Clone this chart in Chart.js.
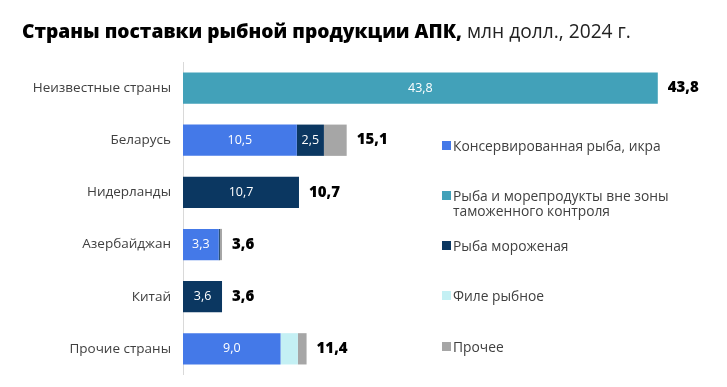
<!DOCTYPE html>
<html>
<head>
<meta charset="utf-8">
<script src="https://cdn.jsdelivr.net/npm/chart.js@4"></script>
<style>
  html, body { margin: 0; padding: 0; background: #fff; }
  #wrap { position: relative; width: 727px; height: 387px; }
  canvas { display: block; }
  #title { position: absolute; left: 22px; top: 17px; font-family: "Open Sans", sans-serif; font-size: 19.2px; color: #000; white-space: nowrap; letter-spacing: 0px; }
  #title b { font-weight: 800; }
  #title span { font-weight: 400; color: #222; }
  #legend { position: absolute; left: 442px; top: 0; font-family: "Open Sans", sans-serif; font-size: 13.8px; color: #404040; }
  .li { position: absolute; left: 0; white-space: nowrap; line-height: 15px; }
  .sw { position: absolute; left: 0; top: 3px; width: 9px; height: 9px; }
  .tx { position: absolute; left: 11px; top: 0; }
</style>
</head>
<body>
<div id="wrap">
  <canvas id="c" width="727" height="387"></canvas>
  <div id="title"><b>Страны поставки рыбной продукции АПК,</b> <span>млн долл., 2024 г.</span></div>
  <div id="legend"></div>
</div>
<script>
const categories = ["Неизвестные страны", "Беларусь", "Нидерланды", "Азербайджан", "Китай", "Прочие страны"];
const seriesNames = ["Консервированная рыба, икра", "Рыба и морепродукты вне зоны таможенного контроля", "Рыба мороженая", "Филе рыбное", "Прочее"];
const legendLines = [["Консервированная рыба, икра"], ["Рыба и морепродукты вне зоны", "таможенного контроля"], ["Рыба мороженая"], ["Филе рыбное"], ["Прочее"]];
const canned = [0, 10.5, 0, 3.3, 0, 9.0];
const outsideCustoms = [43.8, 0, 0, 0, 0, 0];
const frozen = [0, 2.5, 10.7, 0.1, 3.6, 0];
const fillet = [0, 0, 0, 0, 0, 1.6];
const other = [0, 2.1, 0, 0.2, 0, 0.8];
const totals = [43.8, 15.1, 10.7, 3.6, 3.6, 11.4];
const colors = ["#4479e8", "#42a1b9", "#0b3761", "#c4f0f4", "#a6a6a6"];

const seriesData = [canned, outsideCustoms, frozen, fillet, other];
const fmt = v => v.toFixed(1).replace('.', ',');

const labelsPlugin = {
  id: 'labels',
  afterDatasetsDraw(chart) {
    const ctx = chart.ctx;
    ctx.save();
    ctx.textBaseline = 'middle';
    chart.data.datasets.forEach((ds, di) => {
      const meta = chart.getDatasetMeta(di);
      meta.data.forEach((bar, i) => {
        const v = ds.data[i];
        if (di === 4 || di === 3 || v < 2.4) return;
        ctx.fillStyle = '#ffffff';
        ctx.font = '400 12.5px "Open Sans", sans-serif';
        ctx.textAlign = 'center';
        const left = bar.base, right = bar.x;
        ctx.fillText(fmt(v), (left + right) / 2, bar.y);
      });
    });
    const xs = chart.scales.x;
    const ys = chart.scales.y;
    totals.forEach((t, i) => {
      ctx.fillStyle = '#000';
      ctx.font = '800 15px "Open Sans", sans-serif';
      ctx.textAlign = 'left';
      ctx.fillText(fmt(t), xs.getPixelForValue(t) + 10, ys.getPixelForValue(i));
    });
    ctx.restore();
  }
};

new Chart(document.getElementById('c'), {
  type: 'bar',
  data: {
    labels: categories,
    datasets: seriesData.map((d, k) => ({
      label: seriesNames[k],
      data: d,
      backgroundColor: colors[k],
      borderWidth: 0,
      categoryPercentage: 1,
      barPercentage: 0.6
    }))
  },
  options: {
    indexAxis: 'y',
    responsive: false,
    animation: false,
    layout: { padding: { top: 62, bottom: 4, left: 0, right: 2 } },
    plugins: { legend: { display: false }, tooltip: { enabled: false }, title: { display: false } },
    scales: {
      x: { stacked: true, min: 0, max: 50, display: false },
      y: {
        stacked: true,
        grid: { display: false },
        border: { display: true, color: '#d9d9d9', width: 1 },
        ticks: { color: '#404040', font: { family: 'Open Sans', size: 13.5 }, padding: 4 },
        afterFit(s) { s.width = 183; }
      }
    }
  },
  plugins: [labelsPlugin]
});

const legendY = [146, 196, 246, 296, 347];
const lg = document.getElementById('legend');
legendLines.forEach((lines, k) => {
  const d = document.createElement('div');
  d.className = 'li';
  d.style.top = (legendY[k] - 8) + 'px';
  d.innerHTML = '<div class="sw" style="background:' + colors[k] + '"></div><div class="tx">' + lines.join('<br>') + '</div>';
  lg.appendChild(d);
});
</script>
</body>
</html>
